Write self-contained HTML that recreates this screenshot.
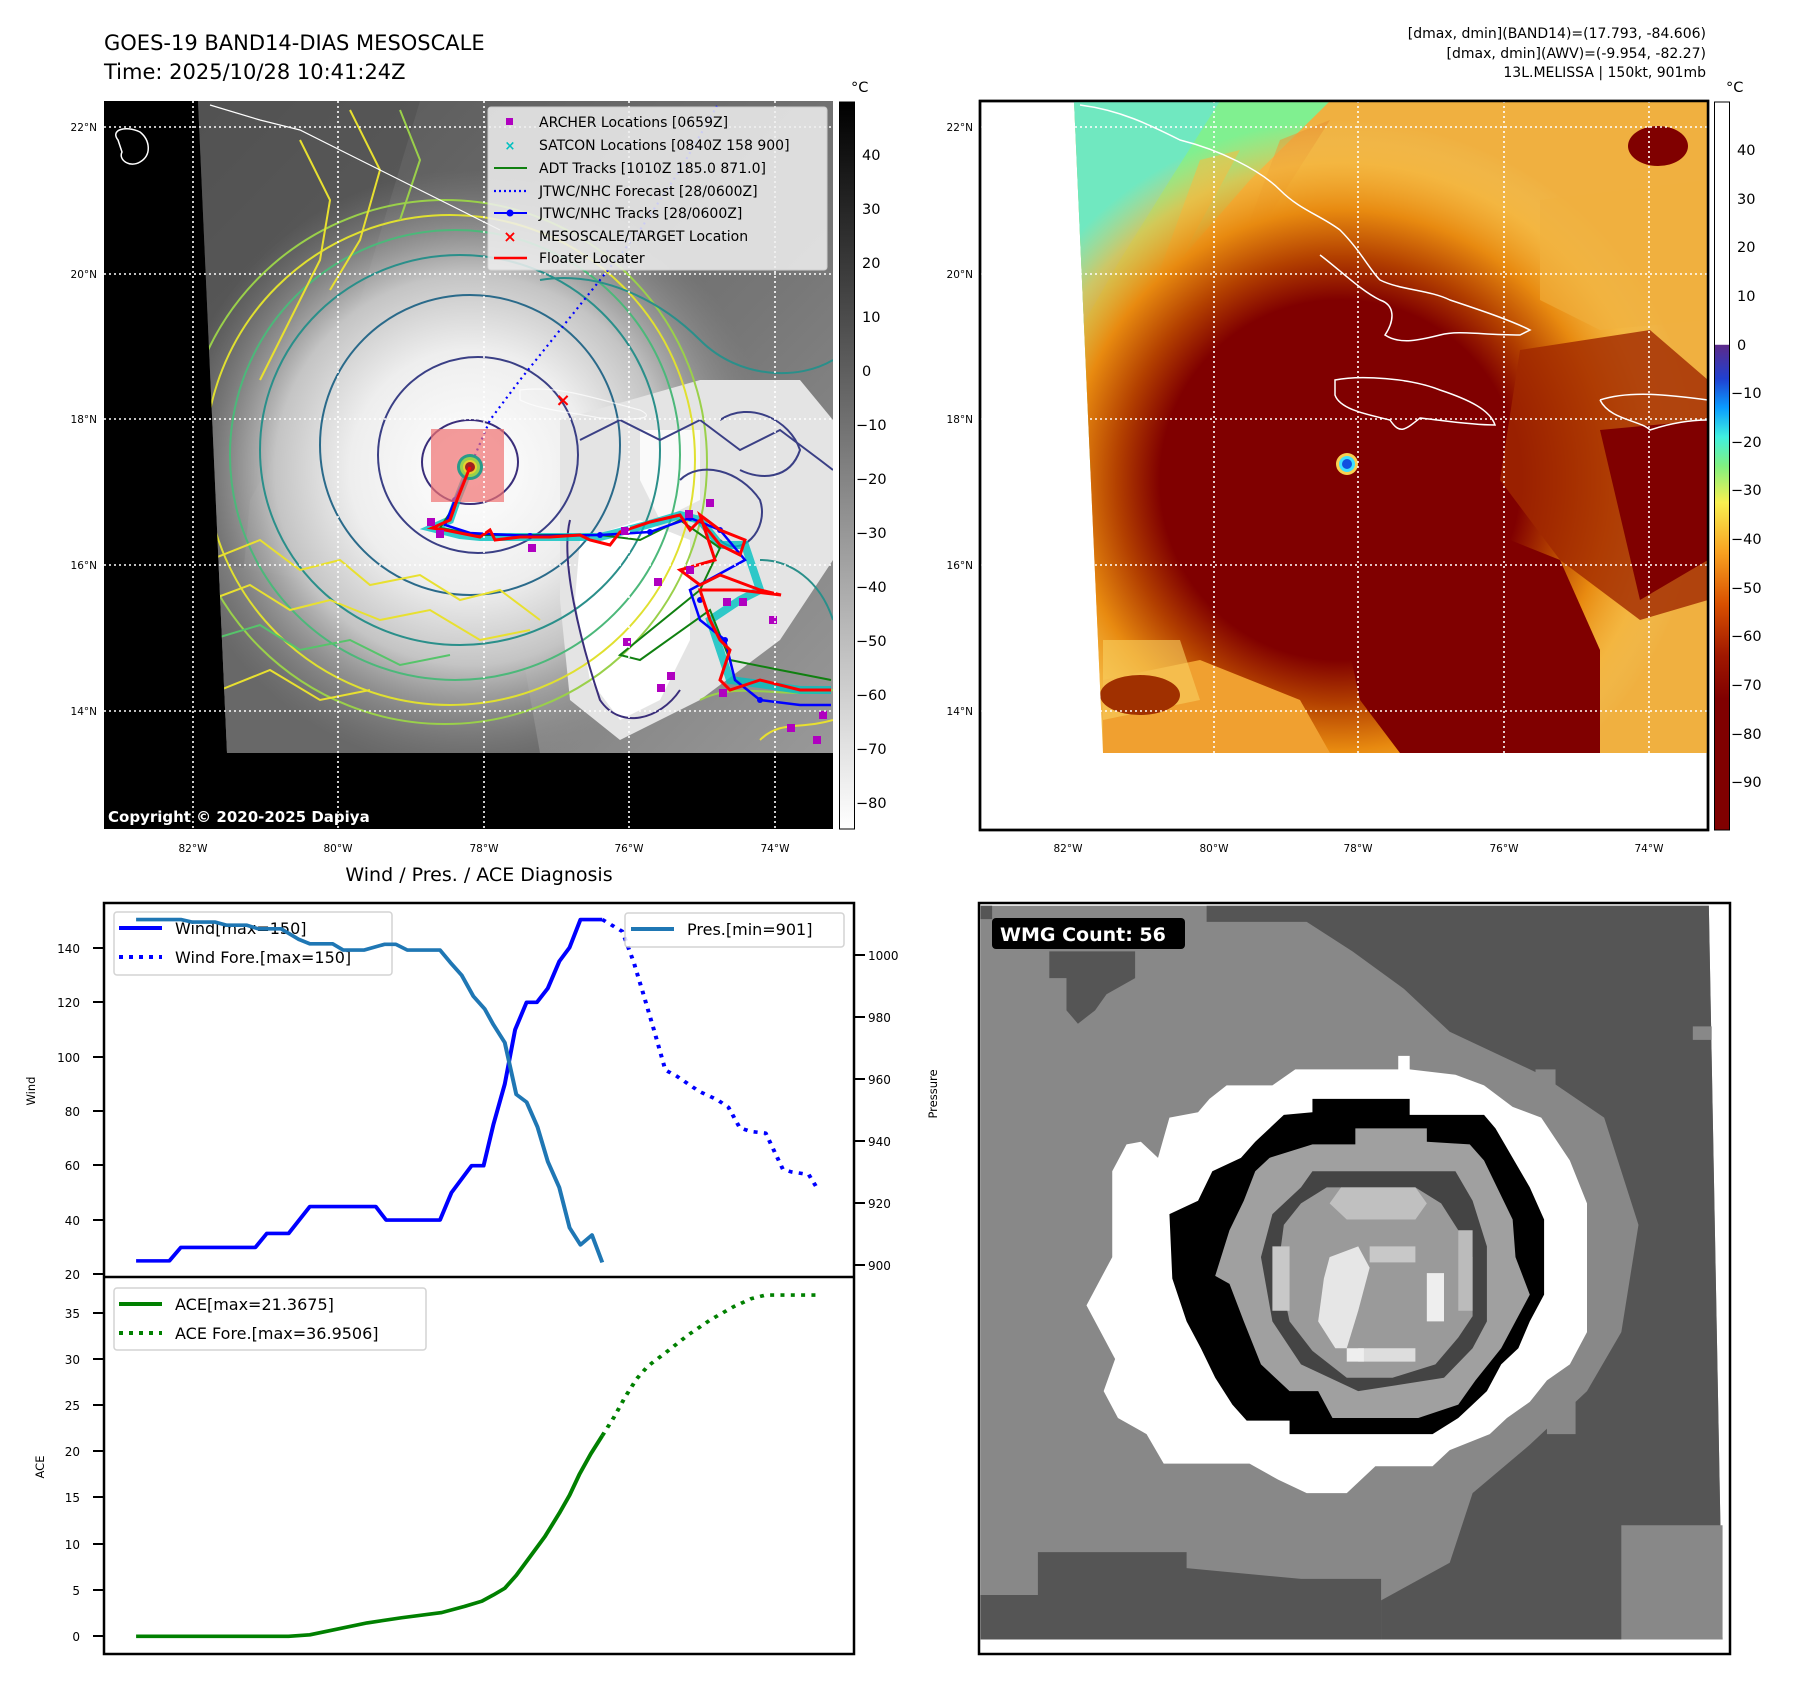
<!DOCTYPE html>
<html><head><meta charset="utf-8"><style>
html,body{margin:0;padding:0;background:#fff;}
svg{display:block;font-family:"DejaVu Sans","Liberation Sans",sans-serif;}
</style></head><body>
<svg width="1797" height="1690" viewBox="0 0 1797 1690" xmlns="http://www.w3.org/2000/svg">
<defs>
<clipPath id="dataL"><polygon points="198,101 833,101 833,753 227,753"/></clipPath>
<clipPath id="dataR"><polygon points="1074,101 1708,101 1708,753 1103,753"/></clipPath>
<radialGradient id="cloud" cx="470" cy="470" r="300" gradientUnits="userSpaceOnUse">
<stop offset="0" stop-color="#ffffff"/><stop offset="0.4" stop-color="#eeeeee"/><stop offset="0.65" stop-color="#c4c4c4"/><stop offset="1" stop-color="#8a8a8a" stop-opacity="0"/></radialGradient>
<linearGradient id="nwdark" x1="0" y1="0" x2="1" y2="1">
<stop offset="0" stop-color="#555"/><stop offset="0.6" stop-color="#777"/><stop offset="1" stop-color="#999"/></linearGradient>
<radialGradient id="redc" cx="1340" cy="480" r="360" gradientUnits="userSpaceOnUse">
<stop offset="0" stop-color="#800000"/><stop offset="0.5" stop-color="#800000"/><stop offset="0.62" stop-color="#b34000"/><stop offset="0.75" stop-color="#e88a10"/><stop offset="0.88" stop-color="#f5b840" stop-opacity="0.7"/><stop offset="1" stop-color="#f0c860" stop-opacity="0"/></radialGradient>
<linearGradient id="cbL" x1="0" y1="0" x2="0" y2="1"><stop offset="0" stop-color="#000"/><stop offset="1" stop-color="#fff"/></linearGradient>
<linearGradient id="cbR" x1="0" y1="102" x2="0" y2="830" gradientUnits="userSpaceOnUse">
<stop offset="0" stop-color="#fff"/><stop offset="0.333" stop-color="#fff"/><stop offset="0.334" stop-color="#5c2a8a"/>
<stop offset="0.38" stop-color="#2040d0"/><stop offset="0.42" stop-color="#0a9cff"/><stop offset="0.46" stop-color="#40f0e0"/>
<stop offset="0.5" stop-color="#80f080"/><stop offset="0.55" stop-color="#f8f050"/><stop offset="0.62" stop-color="#f8a020"/>
<stop offset="0.69" stop-color="#d85000"/><stop offset="0.76" stop-color="#a01800"/><stop offset="0.82" stop-color="#800000"/><stop offset="1" stop-color="#800000"/></linearGradient>
</defs>

<text x="104" y="50" font-size="21">GOES-19 BAND14-DIAS MESOSCALE</text>
<text x="104" y="79" font-size="21">Time: 2025/10/28 10:41:24Z</text>
<g font-size="14" text-anchor="end">
<text x="1706" y="38">[dmax, dmin](BAND14)=(17.793, -84.606)</text>
<text x="1706" y="58">[dmax, dmin](AWV)=(-9.954, -82.27)</text>
<text x="1706" y="77">13L.MELISSA | 150kt, 901mb</text>
</g>

<!-- LEFT MAP -->
<rect x="104" y="101" width="729" height="728" fill="#000"/>
<g clip-path="url(#dataL)">
<rect x="198" y="101" width="640" height="652" fill="url(#nwdark)"/>
<polygon points="198,101 420,101 360,300 250,500 227,753 198,753" fill="#505050" opacity="0.6"/>
<polygon points="198,560 420,600 520,640 540,753 198,753" fill="#686868"/>
<circle cx="470" cy="470" r="300" fill="url(#cloud)"/>
<polygon points="560,420 700,380 800,380 833,420 833,560 780,640 700,700 620,740 570,700 560,600" fill="#e4e4e4"/>
<polygon points="580,540 640,520 690,540 690,640 660,700 620,720 590,680 575,600" fill="#fff"/>
<polygon points="640,430 700,430 700,500 660,520 640,480" fill="#fafafa"/>
<g fill="none" stroke-width="2">
<ellipse cx="478" cy="455" rx="100" ry="98" stroke="#3a3f85"/>
<ellipse cx="470" cy="462" rx="48" ry="42" stroke="#3a2e7a"/>
<ellipse cx="470" cy="445" rx="150" ry="150" stroke="#2a6a8a"/>
<ellipse cx="460" cy="450" rx="200" ry="195" stroke="#2a8f8a"/>
<ellipse cx="455" cy="455" rx="225" ry="225" stroke="#4cb87a"/>
<ellipse cx="450" cy="460" rx="245" ry="245" stroke="#e0e030"/>
<ellipse cx="445" cy="462" rx="262" ry="262" stroke="#9ad04a"/>
<path d="M210,560 L260,540 300,570 340,560 370,585 420,575 460,600 500,590 540,620" stroke="#e8e030"/>
<path d="M210,600 L250,585 290,610 330,600 380,620 430,610 480,640 530,630" stroke="#e8e030"/>
<path d="M210,640 L260,625 300,650 350,640 400,665 450,655" stroke="#56c46a"/>
<path d="M220,690 L270,670 320,700 370,690" stroke="#e8e030"/>
<path d="M300,140 L330,200 320,260 290,320 260,380" stroke="#e8e030"/>
<path d="M350,110 L380,170 360,240 330,290" stroke="#e8e030"/>
<path d="M400,110 L420,160 400,220" stroke="#9ad04a"/>
<path d="M580,440 L620,420 660,440 700,420 740,450 780,430 820,460 833,470" stroke="#3a3f85"/>
<path d="M570,520 C560,560 580,640 600,700 C620,730 660,720 680,690" stroke="#3a2e7a"/>
<path d="M680,480 C700,460 740,470 760,500 C770,530 740,560 720,540" stroke="#3a3f85"/>
<path d="M720,420 C750,400 790,420 800,450 C790,480 760,480 740,470" stroke="#3a3f85"/>
<path d="M540,280 C600,270 660,300 700,340 C740,380 800,380 833,360" stroke="#2a8f8a"/>
<path d="M760,560 C790,560 820,580 833,620" stroke="#2a8f8a"/>
<path d="M700,700 C740,680 780,700 833,690" stroke="#9ad04a"/>
<path d="M760,740 C780,720 800,730 833,720" stroke="#e8e030"/>
</g>
<path d="M520,390 C560,385 600,400 640,410 C660,420 630,420 600,418 C570,412 540,410 520,400 Z" fill="none" stroke="#fff" stroke-width="1.2" opacity="0.7"/>
<path d="M210,105 L260,120 300,130 340,150 380,170 420,190 460,210 500,230" fill="none" stroke="#fff" stroke-width="1.2"/>
<polyline points="470,467 457,500 450,520 432,528 460,535 480,537 520,537 560,537 600,537 620,532 650,524 680,515 700,520 720,545 745,545 760,590 740,600 710,620 720,650 730,680 760,684 800,690 831,690" fill="none" stroke="#00c0c0" stroke-width="8" opacity="0.8"/>
<polyline points="470,467 455,505 440,528 480,535 600,535 640,540 680,520 720,548 700,590 620,655 640,660 710,610 730,660 780,670 831,680" fill="none" stroke="#108010" stroke-width="2"/>
<polyline points="470,467 455,500 445,525 470,533 530,536 600,535 650,532 690,518 720,530 745,560 690,590 700,620 725,640 735,680 760,700 800,705 831,705" fill="none" stroke="#0000ff" stroke-width="2.5"/>
<g fill="#0000ff"><circle cx="455" cy="500" r="3"/><circle cx="530" cy="536" r="3"/><circle cx="600" cy="535" r="3"/><circle cx="650" cy="532" r="3"/><circle cx="690" cy="518" r="3"/><circle cx="720" cy="530" r="3"/><circle cx="700" cy="600" r="3"/><circle cx="725" cy="640" r="3"/><circle cx="760" cy="700" r="3"/></g>
<polyline points="470,467 457,500 450,520 432,528 445,530 480,537 490,530 495,540 520,537 550,537 580,535 590,540 610,545 620,532 650,522 680,515 690,530 700,520 720,545 740,555 745,540 720,530 700,515 715,560 680,570 700,585 720,575 760,590 781,595 740,590 700,590 710,620 720,640 730,650 720,680 730,690 760,680 800,690 831,690" fill="none" stroke="#ff0000" stroke-width="3"/>
<polyline points="470,467 490,420 520,380 560,330 600,280 640,230 680,170 717,106" fill="none" stroke="#0000ff" stroke-width="2.2" stroke-dasharray="2,4"/>
<g fill="#b000c0">
<rect x="427" y="518" width="8" height="8"/><rect x="436" y="530" width="8" height="8"/><rect x="528" y="544" width="8" height="8"/><rect x="621" y="527" width="8" height="8"/><rect x="685" y="510" width="8" height="8"/><rect x="706" y="499" width="8" height="8"/><rect x="654" y="578" width="8" height="8"/><rect x="686" y="566" width="8" height="8"/><rect x="723" y="598" width="8" height="8"/><rect x="739" y="598" width="8" height="8"/><rect x="769" y="616" width="8" height="8"/><rect x="623" y="638" width="8" height="8"/><rect x="667" y="672" width="8" height="8"/><rect x="657" y="684" width="8" height="8"/><rect x="719" y="689" width="8" height="8"/><rect x="787" y="724" width="8" height="8"/><rect x="813" y="736" width="8" height="8"/><rect x="819" y="711" width="8" height="8"/>
</g>
</g>
<rect x="431" y="429" width="73" height="73" fill="#f07070" opacity="0.7"/>
<circle cx="470" cy="467" r="13" fill="#2a9a8a"/><circle cx="470" cy="467" r="10" fill="#9ad04a"/><circle cx="470" cy="467" r="7" fill="#e8d030"/><circle cx="470" cy="467" r="5" fill="#a02020"/>
<polyline points="470,467 457,500 450,520" fill="none" stroke="#ff0000" stroke-width="3"/>
<text x="563" y="406" font-size="18" fill="#ff0000" text-anchor="middle" font-weight="bold">×</text>
<g stroke="#fff" stroke-width="1.6" stroke-dasharray="2,3">
<line x1="104" y1="127" x2="833" y2="127"/><line x1="104" y1="274" x2="833" y2="274"/><line x1="104" y1="419" x2="833" y2="419"/><line x1="104" y1="565" x2="833" y2="565"/><line x1="104" y1="711" x2="833" y2="711"/>
<line x1="193" y1="101" x2="193" y2="829"/><line x1="338" y1="101" x2="338" y2="829"/><line x1="484" y1="101" x2="484" y2="829"/><line x1="629" y1="101" x2="629" y2="829"/><line x1="775" y1="101" x2="775" y2="829"/>
</g>
<path d="M118,140 C110,130 125,125 140,132 C150,140 152,155 140,162 C130,168 118,160 122,152 Z" fill="none" stroke="#fff" stroke-width="1.5"/>
<rect x="488" y="107" width="339" height="163" fill="#f0f0f0" opacity="0.85" stroke="#ddd" rx="3"/>
<g font-size="14">
<rect x="506" y="118" width="7" height="7" fill="#b000c0"/><text x="539" y="127">ARCHER Locations [0659Z]</text>
<text x="510" y="150" text-anchor="middle" fill="#00c0c0" font-size="13" font-weight="bold">×</text><text x="539" y="150">SATCON Locations [0840Z 158 900]</text>
<line x1="494" y1="168" x2="527" y2="168" stroke="#108010" stroke-width="2"/><text x="539" y="173">ADT Tracks [1010Z 185.0 871.0]</text>
<line x1="494" y1="191" x2="527" y2="191" stroke="#0000ff" stroke-width="2.2" stroke-dasharray="2,3"/><text x="539" y="196">JTWC/NHC Forecast [28/0600Z]</text>
<line x1="494" y1="213" x2="527" y2="213" stroke="#0000ff" stroke-width="2"/><circle cx="510" cy="213" r="3.5" fill="#0000ff"/><text x="539" y="218">JTWC/NHC Tracks [28/0600Z]</text>
<text x="510" y="242" text-anchor="middle" fill="#ff0000" font-size="16" font-weight="bold">×</text><text x="539" y="241">MESOSCALE/TARGET Location</text>
<line x1="494" y1="258" x2="527" y2="258" stroke="#ff0000" stroke-width="2.5"/><text x="539" y="263">Floater Locater</text>
</g>
<text x="108" y="822" font-size="15" font-weight="bold" fill="#fff">Copyright © 2020-2025 Dapiya</text>
<g font-size="10.5" text-anchor="end"><text x="97" y="131">22°N</text><text x="97" y="278">20°N</text><text x="97" y="423">18°N</text><text x="97" y="569">16°N</text><text x="97" y="715">14°N</text></g>
<g font-size="10.5" text-anchor="middle"><text x="193" y="852">82°W</text><text x="338" y="852">80°W</text><text x="484" y="852">78°W</text><text x="629" y="852">76°W</text><text x="775" y="852">74°W</text></g>
<rect x="839.5" y="102" width="15" height="727" fill="url(#cbL)" stroke="#000" stroke-width="1"/>
<g font-size="14.5"><text x="851" y="92">°C</text>
<text x="862" y="160">40</text><text x="862" y="214">30</text><text x="862" y="268">20</text><text x="862" y="322">10</text><text x="862" y="376">0</text><text x="856" y="430">−10</text><text x="856" y="484">−20</text><text x="856" y="538">−30</text><text x="856" y="592">−40</text><text x="856" y="646">−50</text><text x="856" y="700">−60</text><text x="856" y="754">−70</text><text x="856" y="808">−80</text></g>

<!-- RIGHT MAP -->
<rect x="980" y="101" width="728" height="729" fill="#fff" stroke="#000" stroke-width="2.5"/>
<g clip-path="url(#dataR)">
<rect x="1074" y="101" width="640" height="652" fill="#f0b040"/>
<polygon points="1074,101 1330,101 1250,180 1180,260 1130,340 1100,420 1074,560" fill="#80f090"/>
<polygon points="1074,101 1220,101 1170,180 1120,260 1074,340" fill="#70e8c0"/>
<polygon points="1200,160 1240,150 1180,260 1150,330 1120,380" fill="#f0c040" opacity="0.6"/>
<polygon points="1280,140 1330,120 1260,230 1220,300" fill="#e89030" opacity="0.6"/>
<rect x="1074" y="101" width="640" height="652" fill="url(#redc)"/>
<polygon points="1330,560 1460,520 1560,560 1600,650 1600,753 1400,753 1360,700" fill="#800000"/>
<polygon points="1520,350 1650,330 1708,380 1708,600 1640,620 1560,560 1500,480" fill="#a02800" opacity="0.8"/>
<polygon points="1600,430 1708,420 1708,560 1640,600" fill="#800000"/>
<polygon points="1540,200 1708,180 1708,320 1600,330 1540,300" fill="#f0b040" opacity="0.6"/>
<ellipse cx="1658" cy="146" rx="30" ry="20" fill="#800000"/>
<polygon points="1103,680 1200,660 1300,700 1330,753 1103,753" fill="#f0a030"/>
<polygon points="1103,640 1180,640 1200,700 1103,720" fill="#f8d060" opacity="0.6"/>
<ellipse cx="1140" cy="695" rx="40" ry="20" fill="#a03000"/>
<circle cx="1347" cy="464" r="11" fill="#f8d050"/><circle cx="1347" cy="464" r="8" fill="#40e0ff"/><circle cx="1347" cy="464" r="5" fill="#1050e0"/>
<path d="M1335,380 C1360,375 1410,378 1440,390 C1470,400 1490,410 1495,425 C1470,425 1440,420 1420,418 C1405,430 1400,435 1390,420 C1370,415 1340,410 1335,395 Z" fill="none" stroke="#fff" stroke-width="1.5"/>
<path d="M1080,105 C1120,110 1150,125 1180,140 C1220,150 1260,170 1280,190 C1300,210 1320,215 1340,230 C1360,250 1370,270 1380,280 C1400,290 1430,290 1450,300 C1480,310 1510,320 1530,330 L1520,335 C1480,335 1460,330 1440,335 C1420,340 1400,345 1385,335 C1395,320 1395,305 1380,300 C1360,290 1340,270 1320,255" fill="none" stroke="#fff" stroke-width="1.5"/>
<path d="M1600,400 C1630,390 1670,395 1708,400 M1600,400 C1610,420 1640,420 1650,430 C1680,420 1700,420 1708,420" fill="none" stroke="#fff" stroke-width="1.5"/>
</g>
<g stroke="#fff" stroke-width="1.6" stroke-dasharray="2,3">
<line x1="980" y1="127" x2="1708" y2="127"/><line x1="980" y1="274" x2="1708" y2="274"/><line x1="980" y1="419" x2="1708" y2="419"/><line x1="980" y1="565" x2="1708" y2="565"/><line x1="980" y1="711" x2="1708" y2="711"/>
<line x1="1214" y1="101" x2="1214" y2="753"/><line x1="1358" y1="101" x2="1358" y2="753"/><line x1="1504" y1="101" x2="1504" y2="753"/><line x1="1649" y1="101" x2="1649" y2="753"/>
</g>
<rect x="980" y="101" width="728" height="729" fill="none" stroke="#000" stroke-width="2.5"/>
<g font-size="10.5" text-anchor="end"><text x="973" y="131">22°N</text><text x="973" y="278">20°N</text><text x="973" y="423">18°N</text><text x="973" y="569">16°N</text><text x="973" y="715">14°N</text></g>
<g font-size="10.5" text-anchor="middle"><text x="1068" y="852">82°W</text><text x="1214" y="852">80°W</text><text x="1358" y="852">78°W</text><text x="1504" y="852">76°W</text><text x="1649" y="852">74°W</text></g>
<rect x="1714.5" y="102" width="15" height="728" fill="url(#cbR)" stroke="#000" stroke-width="1"/>
<g font-size="14.5"><text x="1726" y="92">°C</text>
<text x="1737" y="155">40</text><text x="1737" y="204">30</text><text x="1737" y="252">20</text><text x="1737" y="301">10</text><text x="1737" y="350">0</text><text x="1731" y="398">−10</text><text x="1731" y="447">−20</text><text x="1731" y="495">−30</text><text x="1731" y="544">−40</text><text x="1731" y="593">−50</text><text x="1731" y="641">−60</text><text x="1731" y="690">−70</text><text x="1731" y="739">−80</text><text x="1731" y="787">−90</text></g>

<!-- BOTTOM LEFT CHART -->
<text x="479" y="881" font-size="19" text-anchor="middle">Wind / Pres. / ACE Diagnosis</text>
<rect x="104" y="903" width="750" height="751" fill="#fff"/>
<g stroke="#000" stroke-width="2">
<line x1="93" y1="1274" x2="104" y2="1274"/><line x1="93" y1="1220" x2="104" y2="1220"/><line x1="93" y1="1165" x2="104" y2="1165"/><line x1="93" y1="1111" x2="104" y2="1111"/><line x1="93" y1="1057" x2="104" y2="1057"/><line x1="93" y1="1002" x2="104" y2="1002"/><line x1="93" y1="948" x2="104" y2="948"/>
<line x1="854" y1="1265" x2="865" y2="1265"/><line x1="854" y1="1203" x2="865" y2="1203"/><line x1="854" y1="1141" x2="865" y2="1141"/><line x1="854" y1="1079" x2="865" y2="1079"/><line x1="854" y1="1017" x2="865" y2="1017"/><line x1="854" y1="955" x2="865" y2="955"/>
<line x1="93" y1="1636" x2="104" y2="1636"/><line x1="93" y1="1590" x2="104" y2="1590"/><line x1="93" y1="1544" x2="104" y2="1544"/><line x1="93" y1="1497" x2="104" y2="1497"/><line x1="93" y1="1451" x2="104" y2="1451"/><line x1="93" y1="1405" x2="104" y2="1405"/><line x1="93" y1="1359" x2="104" y2="1359"/><line x1="93" y1="1313" x2="104" y2="1313"/>
</g>
<g font-size="12" text-anchor="end">
<text x="80" y="1279">20</text><text x="80" y="1225">40</text><text x="80" y="1170">60</text><text x="80" y="1116">80</text><text x="80" y="1062">100</text><text x="80" y="1007">120</text><text x="80" y="953">140</text>
<text x="80" y="1641">0</text><text x="80" y="1595">5</text><text x="80" y="1549">10</text><text x="80" y="1502">15</text><text x="80" y="1456">20</text><text x="80" y="1410">25</text><text x="80" y="1364">30</text><text x="80" y="1318">35</text>
</g>
<g font-size="12"><text x="868" y="1270">900</text><text x="868" y="1208">920</text><text x="868" y="1146">940</text><text x="868" y="1084">960</text><text x="868" y="1022">980</text><text x="868" y="960">1000</text></g>
<text transform="translate(35,1091) rotate(-90)" font-size="11.5" text-anchor="middle">Wind</text>
<text transform="translate(44,1467) rotate(-90)" font-size="11.5" text-anchor="middle">ACE</text>
<text transform="translate(937,1094) rotate(-90)" font-size="11.5" text-anchor="middle">Pressure</text>
<g transform="matrix(.5734 0 0 .5172 0.2 879.7)" fill="none" stroke-linejoin="round">
<polyline stroke="#0000ff" stroke-width="7" points="237,737 295,737 315,711 445,711 465,684 503,684 540,632 655,632 673,658 767,658 787,605 822,553 843,553 860,474 880,395 898,290 918,237 936,237 955,210 975,158 993,131 1012,77 1050,77"/>
<polyline stroke="#0000ff" stroke-width="7" stroke-dasharray="7,11" points="1050,77 1085,100 1105,160 1120,215 1140,290 1160,368 1180,380 1200,395 1220,410 1250,425 1270,440 1290,480 1310,487 1335,490 1365,560 1380,565 1410,570 1425,597"/>
</g>
<rect x="114" y="912" width="278" height="63" fill="#fff" opacity="0.85" stroke="#ccc" stroke-width="1.5" rx="3"/>
<line x1="119" y1="928" x2="162" y2="928" stroke="#0000ff" stroke-width="4"/>
<line x1="119" y1="957" x2="162" y2="957" stroke="#0000ff" stroke-width="4" stroke-dasharray="4,6"/>
<text x="175" y="934" font-size="16">Wind[max=150]</text>
<text x="175" y="963" font-size="16">Wind Fore.[max=150]</text>
<g transform="matrix(.5734 0 0 .5172 0.2 879.7)" fill="none" stroke-linejoin="round">
<polyline stroke="#1f77b4" stroke-width="7" points="237,77 315,77 335,82 375,82 395,88 430,88 450,95 490,95 520,115 540,124 580,124 598,136 635,136 670,125 690,125 710,136 767,136 785,160 805,185 825,225 845,250 860,280 880,315 900,415 918,430 937,478 955,545 975,595 993,673 1012,706 1032,687 1050,740"/>
</g>
<rect x="625" y="913" width="219" height="34" fill="#fff" opacity="0.85" stroke="#ccc" stroke-width="1.5" rx="3"/>
<line x1="631" y1="929" x2="674" y2="929" stroke="#1f77b4" stroke-width="4"/>
<text x="687" y="935" font-size="16">Pres.[min=901]</text>
<g transform="matrix(.5734 0 0 .5172 0.2 879.7)" fill="none" stroke-linejoin="round">
<polyline stroke="#008000" stroke-width="7" points="237,1463 503,1463 540,1460 640,1437 700,1427 770,1417 810,1405 840,1395 860,1383 880,1370 900,1345 920,1315 950,1270 975,1225 993,1190 1010,1150 1030,1110 1050,1075"/>
<polyline stroke="#008000" stroke-width="7" stroke-dasharray="7,11" points="1050,1075 1070,1040 1090,1000 1110,965 1130,940 1160,915 1200,880 1240,850 1280,825 1310,810 1335,803 1425,803"/>
</g>
<rect x="114" y="1288" width="312" height="62" fill="#fff" opacity="0.85" stroke="#ccc" stroke-width="1.5" rx="3"/>
<line x1="119" y1="1304" x2="162" y2="1304" stroke="#008000" stroke-width="4"/>
<line x1="119" y1="1333" x2="162" y2="1333" stroke="#008000" stroke-width="4" stroke-dasharray="4,6"/>
<text x="175" y="1310" font-size="16">ACE[max=21.3675]</text>
<text x="175" y="1339" font-size="16">ACE Fore.[max=36.9506]</text>
<rect x="104" y="903" width="750" height="751" fill="none" stroke="#000" stroke-width="2.5"/>
<line x1="104" y1="1277" x2="854" y2="1277" stroke="#000" stroke-width="2.5"/>

<!-- BOTTOM RIGHT WMG -->
<rect x="979" y="903" width="751" height="751" fill="#fff"/>
<g transform="matrix(.572 0 0 .5364 900.6 849.4)">
<polygon points="140,105 1413,105 1437,1473 140,1473" fill="#888"/>
<polygon points="535,105 1413,105 1437,1473 840,1473 840,1400 960,1330 1000,1200 1100,1110 1200,1010 1260,900 1290,700 1230,500 1120,420 960,340 880,260 790,190 710,135 535,135" fill="#555"/>
<polygon points="140,1390 240,1390 240,1310 500,1310 500,1340 700,1360 840,1360 840,1473 140,1473" fill="#555"/>
<polygon points="260,190 410,190 410,240 360,270 340,300 310,325 290,300 290,240 260,240" fill="#555"/>
<polygon points="140,105 160,105 160,130 140,130" fill="#555"/>
<polygon points="1260,1260 1437,1260 1437,1473 1260,1473" fill="#888"/>
<polygon points="1110,410 1145,410 1145,460 1110,460" fill="#888"/>
<polygon points="1385,330 1418,330 1418,355 1385,355" fill="#888"/>
<polygon points="1130,980 1180,980 1180,1090 1130,1090" fill="#888"/>
<polygon points="690,410 870,410 870,385 890,385 890,410 970,420 1020,440 1070,480 1120,500 1170,580 1200,660 1200,900 1170,960 1130,990 1100,1030 1060,1060 1030,1090 960,1120 930,1150 830,1150 780,1200 710,1200 660,1175 610,1145 460,1145 430,1090 380,1060 355,1010 375,950 350,900 325,850 350,800 370,760 370,600 395,550 420,545 450,575 470,500 520,490 540,465 570,440 650,440" fill="#fff"/>
<polygon points="720,465 890,465 890,495 1020,495 1040,520 1070,575 1100,630 1125,690 1125,830 1100,880 1080,930 1050,960 1025,1010 1000,1035 975,1060 930,1090 680,1090 680,1065 605,1065 580,1035 550,985 525,930 500,880 475,800 470,680 520,655 545,600 595,575 620,545 645,520 670,495 720,490" fill="#000"/>
<polygon points="795,520 920,520 920,545 995,550 1020,580 1045,635 1070,690 1075,760 1100,830 1075,880 1050,930 1005,990 975,1035 905,1060 755,1060 730,1010 680,1010 630,960 600,880 575,810 550,795 575,710 600,655 620,600 645,575 720,550 795,550" fill="#a0a0a0"/>
<polygon points="720,600 970,600 1000,655 1025,740 1025,880 1000,930 950,985 800,1010 700,960 650,880 630,760 650,680 700,630" fill="#444"/>
<polygon points="745,630 900,630 945,660 975,710 1000,760 1000,870 975,910 935,960 860,985 780,985 720,935 680,880 660,780 670,700 700,660" fill="#9a9a9a"/>
<polygon points="770,630 900,630 920,660 900,690 780,690 750,660" fill="#c0c0c0"/>
<polygon points="750,760 800,740 820,780 800,860 780,930 760,930 730,880 740,800" fill="#e6e6e6"/>
<polygon points="820,740 900,740 900,770 820,770" fill="#c8c8c8"/>
<polygon points="920,790 950,790 950,880 920,880" fill="#eee"/>
<polygon points="800,930 900,930 900,955 800,955" fill="#ddd"/>
<polygon points="780,930 810,930 810,955 780,955" fill="#eee"/>
<polygon points="650,740 680,740 680,860 650,860" fill="#c8c8c8"/>
<polygon points="975,710 1000,710 1000,860 975,860" fill="#bbb"/>
</g>
<rect x="992" y="918" width="193" height="31" rx="4" fill="#000"/>
<text x="1000" y="941" font-size="19" font-weight="bold" fill="#fff">WMG Count: 56</text>
<rect x="979" y="903" width="751" height="751" fill="none" stroke="#000" stroke-width="2.5"/>
</svg>
</body></html>
